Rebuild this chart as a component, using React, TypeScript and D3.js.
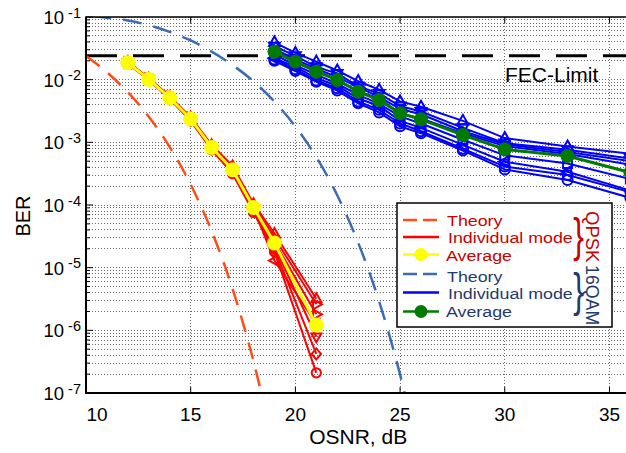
import React from 'react';
import * as d3 from 'd3';

// ---- Data --------------------------------------------------------------
const X_TICKS = [10, 15, 20, 25, 30, 35];
const Y_DECADES = [-7, -6, -5, -4, -3, -2, -1];
const FEC_LIMIT = 2.4e-2;

// Theoretical curves
const QPSK_THEORY_OSNR = [10, 11, 12, 13, 14, 15, 16, 17, 18, 18.5];
const QPSK_THEORY_BER = [2.38e-2, 1.31e-2, 6.3e-3, 2.56e-3, 8.4e-4, 2.12e-4, 3.84e-5, 4.6e-6, 3.2e-7, 6.7e-8];
const QAM16_THEORY_OSNR = [10.3, 11, 12, 13, 14, 15, 16, 17, 18, 19, 20, 21, 22, 23, 24, 25, 25.5];
const QAM16_THEORY_BER = [1.04e-1, 9.7e-2, 8.8e-2, 7.4e-2, 5.8e-2, 4.22e-2, 2.81e-2, 1.71e-2, 9.4e-3, 4.46e-3, 1.79e-3, 5.8e-4, 1.43e-4, 2.5e-5, 2.9e-6, 1.96e-7, 4.0e-8];

// QPSK measurements
const QPSK_OSNR = [12, 13, 14, 15, 16, 17, 18, 19, 21];
const QPSK_AVG = [1.87e-2, 1.01e-2, 5.15e-3, 2.36e-3, 8.3e-4, 3.66e-4, 9.1e-5, 2.48e-5, 1.22e-6];
const QPSK_MODES = [
  [1.82e-2, 9.8e-3, 4.9e-3, 2.2e-3, 7.6e-4, 3.16e-4, 7.6e-5, 1.8e-5, 2.1e-7],
  [1.86e-2, 1.0e-2, 5.0e-3, 2.24e-3, 7.9e-4, 3.4e-4, 8.1e-5, 2.0e-5, 4.2e-7],
  [1.9e-2, 1.02e-2, 5.1e-3, 2.3e-3, 8.3e-4, 3.5e-4, 8.7e-5, 2.2e-5, 7.9e-7],
  [1.86e-2, 1.02e-2, 5.2e-3, 2.4e-3, 8.5e-4, 3.7e-4, 9.3e-5, 2.6e-5, 1.8e-6],
  [1.9e-2, 1.05e-2, 5.4e-3, 2.5e-3, 8.7e-4, 3.9e-4, 1.0e-4, 3.0e-5, 2.6e-6],
  [1.82e-2, 1.0e-2, 5.1e-3, 2.3e-3, 8.1e-4, 3.5e-4, 8.9e-5, 1.3e-5, 1.26e-6],
  [1.95e-2, 1.05e-2, 5.4e-3, 2.5e-3, 9.1e-4, 4.2e-4, 1.05e-4, 3.5e-5, 3.2e-6],
];
const QPSK_MARKERS = ['o', 'd', 'v', '>', '>', '<', '^'];

// 16QAM measurements
const QAM16_OSNR = [19, 20, 21, 22, 23, 24, 25, 26, 28, 30, 33, 36];
const QAM16_AVG = [2.79e-2, 1.94e-2, 1.34e-2, 9.9e-3, 6.43e-3, 4.74e-3, 2.91e-3, 2.33e-3, 1.31e-3, 7.74e-4, 6.05e-4, 3.3e-4];
const QAM16_MODES = [
  [3.94e-2, 2.67e-2, 1.94e-2, 1.4e-2, 9.5e-3, 6.9e-3, 4.5e-3, 3.7e-3, 2.2e-3, 1.17e-3, 8.6e-4, 6.6e-4],
  [3.4e-2, 2.4e-2, 1.6e-2, 1.25e-2, 7.9e-3, 6.0e-3, 3.8e-3, 3.1e-3, 1.7e-3, 9.7e-4, 7.6e-4, 5.5e-4],
  [3.1e-2, 2.1e-2, 1.5e-2, 1.1e-2, 7.6e-3, 5.3e-3, 3.4e-3, 2.8e-3, 1.5e-3, 9.3e-4, 7.0e-4, 5.0e-4],
  [2.8e-2, 1.85e-2, 1.4e-2, 9.9e-3, 6.6e-3, 5.0e-3, 2.9e-3, 2.4e-3, 1.4e-3, 8.7e-4, 6.5e-4, 4.4e-4],
  [2.5e-2, 1.7e-2, 1.2e-2, 8.6e-3, 5.7e-3, 4.1e-3, 2.6e-3, 2.0e-3, 1.1e-3, 6.2e-4, 4.6e-4, 2.6e-4],
  [2.2e-2, 1.6e-2, 1.06e-2, 8.0e-3, 5.0e-3, 3.8e-3, 2.2e-3, 1.7e-3, 9.1e-4, 4.9e-4, 3.4e-4, 1.7e-4],
  [2.1e-2, 1.47e-2, 9.7e-3, 7.3e-3, 4.5e-3, 3.3e-3, 2.0e-3, 1.5e-3, 7.9e-4, 4.1e-4, 3.0e-4, 1.6e-4],
  [2.0e-2, 1.37e-2, 9.3e-3, 6.7e-3, 4.2e-3, 3.0e-3, 1.8e-3, 1.4e-3, 7.4e-4, 3.7e-4, 2.5e-4, 1.3e-4],
];
const QAM16_MARKERS = ['^', 'v', '>', 'd', 's', '<', 'o', 'o'];

// ---- Styling -----------------------------------------------------------
const FONT = '"Liberation Sans", Arial, Helvetica, sans-serif';
const C_QPSK_THEORY = '#ff4d1a';
const C_QAM_THEORY = '#3a6db3';
const C_RED = '#ff0000';
const C_BLUE = '#0000ff';
const C_YELLOW = '#ffff00';
const C_GREEN = '#007a00';
const C_RED_TEXT = '#c80000';
const C_NAVY_TEXT = '#1f3a6e';

const PLOT = { left: 86, top: 17, right: 630.4, bottom: 393 };

function markerPath(kind: string, r: number): string {
  switch (kind) {
    case 'o':
      return d3.symbol(d3.symbolCircle, Math.PI * r * r * 0.7)() as string;
    case 's':
      return `M${-r * 0.75},${-r * 0.75}h${1.5 * r}v${1.5 * r}h${-1.5 * r}Z`;
    case 'd':
      return `M0,${-r}L${r * 0.85},0L0,${r}L${-r * 0.85},0Z`;
    case '^':
      return `M0,${-r}L${r * 0.9},${r * 0.6}L${-r * 0.9},${r * 0.6}Z`;
    case 'v':
      return `M0,${r}L${r * 0.9},${-r * 0.6}L${-r * 0.9},${-r * 0.6}Z`;
    case '>':
      return `M${r},0L${-r * 0.6},${r * 0.9}L${-r * 0.6},${-r * 0.9}Z`;
    case '<':
      return `M${-r},0L${r * 0.6},${-r * 0.9}L${r * 0.6},${r * 0.9}Z`;
    default:
      return '';
  }
}

export default function App() {
  const x = d3.scaleLinear().domain([10, 36]).range([PLOT.left, PLOT.right]);
  const y = d3.scaleLog().domain([1e-7, 1e-1]).range([PLOT.bottom, PLOT.top]);

  const straight = d3
    .line<[number, number]>()
    .x((d) => x(d[0]))
    .y((d) => y(d[1]));
  const smooth = d3
    .line<[number, number]>()
    .x((d) => x(d[0]))
    .y((d) => y(d[1]))
    .curve(d3.curveMonotoneX);

  const zip = (xs: number[], ys: number[]) => xs.map((v, i) => [v, ys[i]] as [number, number]);

  // log grid values
  const minorY: number[] = [];
  Y_DECADES.slice(0, -1).forEach((d) => {
    for (let k = 2; k <= 9; k++) minorY.push(k * Math.pow(10, d));
  });
  const majorY = Y_DECADES.map((d) => Math.pow(10, d));

  const gridStyle = { stroke: '#6a6a6a', strokeWidth: 1, strokeDasharray: '1,2', fill: 'none' };

  const renderSeries = (
    xs: number[],
    sets: number[][],
    markers: string[],
    color: string,
    r: number
  ) =>
    sets.map((ber, i) => {
      const pts = zip(xs, ber);
      const path = markerPath(markers[i], r);
      return (
        <g key={i}>
          <path d={straight(pts) as string} fill="none" stroke={color} strokeWidth={2} />
          {pts.map((p, j) => (
            <path
              key={j}
              d={path}
              transform={`translate(${x(p[0])},${y(p[1])})`}
              fill="none"
              stroke={color}
              strokeWidth={2}
            />
          ))}
        </g>
      );
    });

  const qpskAvgPts = zip(QPSK_OSNR, QPSK_AVG);
  const qamAvgPts = zip(QAM16_OSNR, QAM16_AVG);

  // legend layout
  const LX0 = 403;
  const LX1 = 439;
  const LT = 447;
  const legendFont = 15.5;
  const legendStretch = 1.15;

  const legendLabel = (label: string, tx: number, ty: number, color: string) => (
    <text
      transform={`translate(${tx},${ty}) scale(${legendStretch},1)`}
      fontSize={legendFont}
      fill={color}
    >
      {label}
    </text>
  );

  return (
    <svg
      width={626}
      height={453}
      style={{ position: 'absolute', left: 0, top: 0, background: '#fff' }}
      fontFamily={FONT}
    >
      <defs>
        <clipPath id="plotClip">
          <rect x={PLOT.left} y={PLOT.top} width={PLOT.right - PLOT.left} height={PLOT.bottom - PLOT.top} />
        </clipPath>
      </defs>
      <rect x={0} y={0} width={626} height={453} fill="#fff" />

      {/* grid */}
      <g shapeRendering="crispEdges">
        {minorY.map((v, i) => (
          <line key={`mn${i}`} x1={PLOT.left} x2={PLOT.right} y1={y(v)} y2={y(v)} {...gridStyle} />
        ))}
        {majorY.map((v, i) => (
          <line key={`mj${i}`} x1={PLOT.left} x2={PLOT.right} y1={y(v)} y2={y(v)} {...gridStyle} />
        ))}
        {X_TICKS.slice(1).map((v) => (
          <line key={`gx${v}`} x1={x(v)} x2={x(v)} y1={PLOT.top} y2={PLOT.bottom} {...gridStyle} />
        ))}
      </g>

      <g clipPath="url(#plotClip)">
        {/* FEC limit */}
        <line
          x1={PLOT.left}
          x2={PLOT.right}
          y1={y(FEC_LIMIT)}
          y2={y(FEC_LIMIT)}
          stroke="#000"
          strokeWidth={3}
          strokeDasharray="31,16"
        />

        {/* theory */}
        <path
          d={smooth(zip(QPSK_THEORY_OSNR, QPSK_THEORY_BER)) as string}
          fill="none"
          stroke={C_QPSK_THEORY}
          strokeWidth={2.5}
          strokeDasharray="17,11"
        />
        <path
          d={smooth(zip(QAM16_THEORY_OSNR, QAM16_THEORY_BER)) as string}
          fill="none"
          stroke={C_QAM_THEORY}
          strokeWidth={2.5}
          strokeDasharray="19,12"
        />

        {/* QPSK individual modes and average */}
        {renderSeries(QPSK_OSNR, QPSK_MODES, QPSK_MARKERS, C_RED, 5.5)}
        <path d={straight(qpskAvgPts) as string} fill="none" stroke={C_YELLOW} strokeWidth={3} />
        {qpskAvgPts.map((p, j) => (
          <circle key={j} cx={x(p[0])} cy={y(p[1])} r={7.5} fill={C_YELLOW} />
        ))}

        {/* 16QAM individual modes and average */}
        {renderSeries(QAM16_OSNR, QAM16_MODES, QAM16_MARKERS, C_BLUE, 6)}
        <path d={straight(qamAvgPts) as string} fill="none" stroke={C_GREEN} strokeWidth={3} />
        {qamAvgPts.map((p, j) => (
          <circle key={j} cx={x(p[0])} cy={y(p[1])} r={7} fill={C_GREEN} />
        ))}
      </g>

      {/* axes box and ticks */}
      <g stroke="#000" fill="none">
        <rect
          x={PLOT.left}
          y={PLOT.top}
          width={PLOT.right - PLOT.left}
          height={PLOT.bottom - PLOT.top}
          strokeWidth={1.5}
        />
        <line x1={PLOT.left} x2={PLOT.left} y1={PLOT.top} y2={PLOT.bottom + 1} strokeWidth={2} />
        <line x1={PLOT.left - 1} x2={PLOT.right} y1={PLOT.bottom} y2={PLOT.bottom} strokeWidth={2} />
        {minorY.map((v, i) => (
          <line key={`tmn${i}`} x1={PLOT.left} x2={PLOT.left + 4} y1={y(v)} y2={y(v)} strokeWidth={1} />
        ))}
        {majorY.map((v, i) => (
          <line key={`tmj${i}`} x1={PLOT.left} x2={PLOT.left + 7} y1={y(v)} y2={y(v)} strokeWidth={1} />
        ))}
        {X_TICKS.slice(1).map((v) => (
          <line key={`tx${v}`} x1={x(v)} x2={x(v)} y1={PLOT.bottom} y2={PLOT.bottom - 6} strokeWidth={1} />
        ))}
        {X_TICKS.slice(1).map((v) => (
          <line key={`txt${v}`} x1={x(v)} x2={x(v)} y1={PLOT.top} y2={PLOT.top + 6} strokeWidth={1} />
        ))}
      </g>

      {/* tick labels */}
      <g fontSize={19} fill="#000">
        {X_TICKS.map((v, i) => (
          <text
            key={`lx${v}`}
            x={i === 0 ? x(v) + 0.5 : x(v)}
            y={421}
            textAnchor={i === 0 ? 'start' : 'middle'}
          >
            {v}
          </text>
        ))}
      </g>
      <g fill="#000">
        {Y_DECADES.map((d) => (
          <text key={`ly${d}`} x={81} y={y(Math.pow(10, d)) + 7} textAnchor="end" fontSize={18.5}>
            10
            <tspan dx={4} dy={-6.5} fontSize={14.5}>
              {`-${-d}`}
            </tspan>
          </text>
        ))}
      </g>

      {/* axis titles */}
      <text x={(PLOT.left + PLOT.right) / 2} y={444} textAnchor="middle" fontSize={21} fill="#000">
        OSNR, dB
      </text>
      <text transform="translate(30,216) rotate(-90)" textAnchor="middle" fontSize={20} fill="#000">
        BER
      </text>

      {/* FEC label */}
      <text x={505} y={82} fontSize={21} fill="#000">
        FEC-Limit
      </text>

      {/* legend */}
      <g>
        <rect x={397} y={203} width={215} height={124} fill="#fff" stroke="#000" strokeWidth={1.5} />
        <line x1={LX0} x2={LX1} y1={220} y2={220} stroke={C_QPSK_THEORY} strokeWidth={2.5} strokeDasharray="14,6" />
        <line x1={LX0} x2={LX1} y1={237} y2={237} stroke={C_RED} strokeWidth={2.5} />
        <line x1={LX0} x2={LX1} y1={254.5} y2={254.5} stroke={C_YELLOW} strokeWidth={2.5} />
        <circle cx={(LX0 + LX1) / 2} cy={254.5} r={6.5} fill={C_YELLOW} />
        <line x1={LX0} x2={LX1} y1={274} y2={274} stroke={C_QAM_THEORY} strokeWidth={2.5} strokeDasharray="14,6" />
        <line x1={LX0} x2={LX1} y1={292.5} y2={292.5} stroke={C_BLUE} strokeWidth={2.5} />
        <line x1={LX0} x2={LX1} y1={311.5} y2={311.5} stroke={C_GREEN} strokeWidth={2.5} />
        <circle cx={(LX0 + LX1) / 2} cy={311.5} r={6.5} fill={C_GREEN} />

        {legendLabel('Theory', LT, 225.5, C_RED_TEXT)}
        {legendLabel('Individual mode', LT + 1, 243, C_RED_TEXT)}
        {legendLabel('Average', LT - 1, 260.5, C_RED_TEXT)}
        {legendLabel('Theory', LT, 281.5, C_NAVY_TEXT)}
        {legendLabel('Individual mode', LT + 1, 299, C_NAVY_TEXT)}
        {legendLabel('Average', LT - 1, 317, C_NAVY_TEXT)}

        {/* group braces */}
        <text
          transform="translate(578.5,239) scale(1,1.45)"
          y={8.5}
          textAnchor="middle"
          fontSize={32}
          fill={C_RED_TEXT}
        >
          {'}'}
        </text>
        <text
          transform="translate(578.5,294) scale(1,1.45)"
          y={8.5}
          textAnchor="middle"
          fontSize={32}
          fill={C_NAVY_TEXT}
        >
          {'}'}
        </text>
        <text transform="translate(586,211) rotate(90)" fontSize={18.5} fill={C_RED_TEXT}>
          QPSK
        </text>
        <text transform="translate(586,265) rotate(90)" fontSize={17.8} fill={C_NAVY_TEXT}>
          16QAM
        </text>
      </g>
    </svg>
  );
}
